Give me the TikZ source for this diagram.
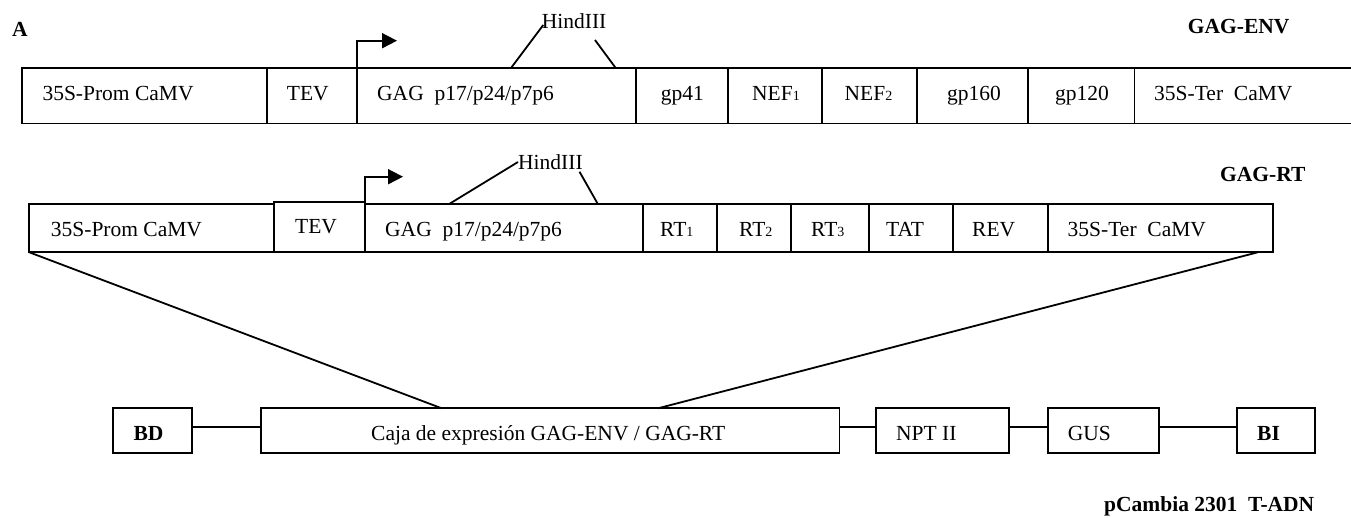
\documentclass[tikz,border=0pt]{standalone}
\usepackage{fontspec}
\setmainfont{Liberation Serif}
\usetikzlibrary{arrows.meta}
\newcommand\genebox[5]{\node[box, minimum width=#4pt, minimum height=#5pt] (#1) at (#2,#3) {};}
\newcommand\sbd[1]{{\fontsize{14}{14}\selectfont #1}}
\begin{document}
\begin{tikzpicture}[x=1pt,y=-1pt,
  box/.style={draw, rectangle, inner sep=0pt, outer sep=0pt, anchor=north west, line width=1.8pt},
  txt/.style={inner sep=0pt, anchor=base west, font=\fontsize{21.5}{21.5}\selectfont},
  btxt/.style={inner sep=0pt, anchor=base west, font=\fontsize{21.5}{21.5}\selectfont\bfseries},
  conn/.style={line width=1.8pt},
  prom/.style={line width=1.8pt, -{Triangle[length=15pt,width=15pt]}}]
\useasboundingbox (0,0) rectangle (1351,517);

% ---------- Row 1 : GAG-ENV ----------
\genebox{p1}{21.7}{68}{245}{55.5}
\genebox{tev1}{266.7}{68}{90}{55.5}
\genebox{gag1}{356.7}{68}{279}{55.5}
\genebox{gpa}{635.7}{68}{92.6}{55.5}
\genebox{nefa}{728.3}{68}{93.7}{55.5}
\genebox{nefb}{822}{68}{95}{55.5}
\genebox{gpb}{917}{68}{111}{55.5}
\genebox{gpc}{1028}{68}{106.5}{55.5}
\genebox{ter1}{1134.5}{68}{222}{55.5}

\node[txt] (tp1) at (42.3,100) {35S-Prom CaMV};
\node[txt] (ttev1) at (286.7,100) {TEV};
\node[txt] (tgag1) at (377,100) {GAG\ \ p17/p24/p7p6};
\node[txt] (tgpa) at (660.7,100) {gp41};
\node[txt] (tnefa) at (752,100) {NEF\sbd{1}};
\node[txt] (tnefb) at (844.5,100) {NEF\sbd{2}};
\node[txt] (tgpb) at (947,100) {gp160};
\node[txt] (tgpc) at (1055,100) {gp120};
\node[txt] (tter1) at (1154,100) {35S-Ter\ \ CaMV};

\node[btxt] (lA) at (12,36) {A};
\node[btxt] (lenv) at (1187.7,33.3) {GAG-ENV};

% HindIII row 1
\node[txt] (hind1) at (541.7,28.3) {HindIII};
\coordinate (h1a) at (511,68);
\coordinate (h1b) at (543.3,25);
\coordinate (h1c) at (595,40);
\coordinate (h1d) at (615.7,68);
\draw[conn] (h1a) -- (h1b);
\draw[conn] (h1c) -- (h1d);

% promoter arrow row 1
\coordinate (ar1) at (397,40.7);
\draw[prom] (gag1.north west) |- (ar1);

% ---------- Row 2 : GAG-RT ----------
\genebox{p2}{29.3}{204.3}{245}{48}
\genebox{tev2}{274.3}{202.3}{90.7}{50}
\genebox{gag2}{365}{204.3}{278}{48}
\genebox{rta}{643}{204.3}{74.3}{48}
\genebox{rtb}{717.3}{204.3}{73.3}{48}
\genebox{rtc}{790.6}{204.3}{78.6}{48}
\genebox{tat}{869.2}{204.3}{83.8}{48}
\genebox{rev}{953}{204.3}{94.8}{48}
\genebox{ter2}{1047.8}{204.3}{225}{48}

\node[txt] (tp2) at (50.7,236.7) {35S-Prom CaMV};
\node[txt] (ttev2) at (295,233) {TEV};
\node[txt] (tgag2) at (385,236.7) {GAG\ \ p17/p24/p7p6};
\node[txt] (trta) at (660,236.7) {RT\sbd{1}};
\node[txt] (trtb) at (739,236.7) {RT\sbd{2}};
\node[txt] (trtc) at (811,236.7) {RT\sbd{3}};
\node[txt] (ttat) at (886,236.7) {TAT};
\node[txt] (trev) at (972,236.7) {REV};
\node[txt] (tter2) at (1067.5,236.7) {35S-Ter\ \ CaMV};

\node[btxt] (lrt) at (1220,181.7) {GAG-RT};

% HindIII row 2
\node[txt] (hind2) at (518,169) {HindIII};
\coordinate (h2a) at (448.7,204.3);
\coordinate (h2b) at (518,162);
\coordinate (h2c) at (579.5,171.7);
\coordinate (h2d) at (598,204.3);
\draw[conn] (h2a) -- (h2b);
\draw[conn] (h2c) -- (h2d);

% promoter arrow row 2
\coordinate (ar2) at (403,176.7);
\draw[prom] (gag2.north west) |- (ar2);

% ---------- Row 3 : pCambia 2301 T-ADN ----------
\genebox{bd}{113.3}{408.3}{79}{45}
\genebox{caja}{261}{408.3}{578.4}{45}
\genebox{npt}{875.7}{408.3}{133.3}{45}
\genebox{gus}{1047.7}{408.3}{111.6}{45}
\genebox{bi}{1236.7}{408.3}{78.6}{45}

\node[btxt] (tbd) at (133.3,440.5) {BD};
\node[txt] (tcaja) at (371,440.5) {Caja de expresión GAG-ENV / GAG-RT};
\node[txt] (tnpt) at (896,440.5) {NPT II};
\node[txt] (tgus) at (1067.7,440.5) {GUS};
\node[btxt] (tbi) at (1257,440.5) {BI};

\node[btxt] (lpc) at (1104,511.5) {pCambia 2301\ \ T-ADN};

\coordinate (cy) at (0,427);
\draw[conn] (bd.east |- cy) -- (caja.west |- cy);
\draw[conn] (caja.east |- cy) -- (npt.west |- cy);
\draw[conn] (npt.east |- cy) -- (gus.west |- cy);
\draw[conn] (gus.east |- cy) -- (bi.west |- cy);

% expansion lines
\coordinate (cL) at (441.7,408.3);
\coordinate (cR) at (658,408.3);
\coordinate (rR) at (1257.7,252.3);
\draw[conn] (p2.south west) -- (cL);
\draw[conn] (rR) -- (cR);
\end{tikzpicture}
\end{document}
